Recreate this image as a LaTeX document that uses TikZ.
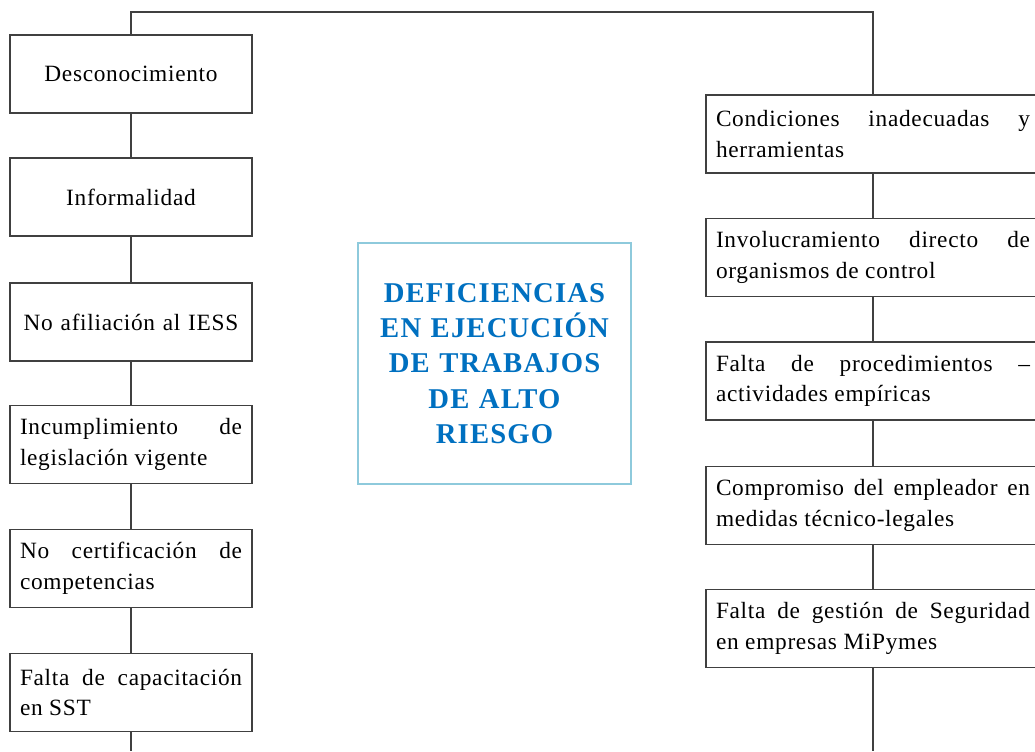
\documentclass[tikz,border=0pt]{standalone}
\usepackage{fontspec}
\setmainfont{Liberation Serif}
\hyphenpenalty=10000
\exhyphenpenalty=10000
\definecolor{linec}{HTML}{404040}
\definecolor{tblue}{HTML}{0070C0}
\definecolor{cborder}{HTML}{8ECADC}
\begin{document}
\begin{tikzpicture}[x=0.75pt,y=-0.75pt,
  conn/.style={draw=linec, line width=1.4pt},
  boxbase/.style={draw=linec, line width=1.4pt, inner ysep=0pt, minimum height=58.5pt,
    font=\fontsize{17.5}{23}\selectfont\addfontfeature{LetterSpace=3}},
  lbox/.style={boxbase, text width=166.5pt, inner xsep=7.5pt, align=justify},
  lboxc/.style={boxbase, text width=166.5pt, inner xsep=7.5pt, align=center},
  rbox/.style={boxbase, text width=235.5pt, inner xsep=7.5pt, align=justify},
  cbox/.style={draw=cborder, line width=1.1pt, minimum width=204.75pt, minimum height=180.75pt,
    text width=198pt, inner sep=0pt, align=center, text=tblue,
    font=\fontsize{21.5}{26.5}\selectfont\bfseries\addfontfeature{LetterSpace=4}}
]
\useasboundingbox (0,0) rectangle (1035,751);
\clip (0,0) rectangle (1035,751);

% left column
\node[lboxc] (d1) at (131,74) {Desconocimiento};
\node[lboxc] (d2) at (131,197) {Informalidad};
\node[lboxc] (d3) at (131,322) {No afiliación al IESS};
\node[lbox]  (d4) at (131,444.5) {Incumplimiento de\linebreak legislación vigente};
\node[lbox]  (d5) at (131,568.5) {No certificación de\linebreak competencias};
\node[lbox]  (d6) at (131,692.5) {Falta de capacitación\linebreak en SST};

% right column
\node[rbox] (r1) at (873,134) {Condiciones inadecuadas y\linebreak herramientas};
\node[rbox] (r2) at (873,257.5) {Involucramiento directo de\linebreak organismos de control};
\node[rbox] (r3) at (873,381) {Falta de procedimientos –\linebreak actividades empíricas};
\node[rbox] (r4) at (873,505.5) {Compromiso del empleador en\linebreak medidas técnico-legales};
\node[rbox] (r5) at (873,628.5) {Falta de gestión de Seguridad\linebreak en empresas MiPymes};

% centre
\node[cbox] (c) at (494.5,363.5) {DEFICIENCIAS\\EN EJECUCIÓN\\DE TRABAJOS\\DE ALTO\\RIESGO};

% connectors
\coordinate (top) at (0,12);
\coordinate (lb) at (131,751);
\coordinate (rb) at (873,751);
\draw[conn] (d1.north) -- (d1.north |- top) -- (r1.north |- top) -- (r1.north);
\draw[conn] (d1.south) -- (d2.north);
\draw[conn] (d2.south) -- (d3.north);
\draw[conn] (d3.south) -- (d4.north);
\draw[conn] (d4.south) -- (d5.north);
\draw[conn] (d5.south) -- (d6.north);
\draw[conn] (d6.south) -- (lb);
\draw[conn] (r1.south) -- (r2.north);
\draw[conn] (r2.south) -- (r3.north);
\draw[conn] (r3.south) -- (r4.north);
\draw[conn] (r4.south) -- (r5.north);
\draw[conn] (r5.south) -- (rb);
\end{tikzpicture}
\end{document}
